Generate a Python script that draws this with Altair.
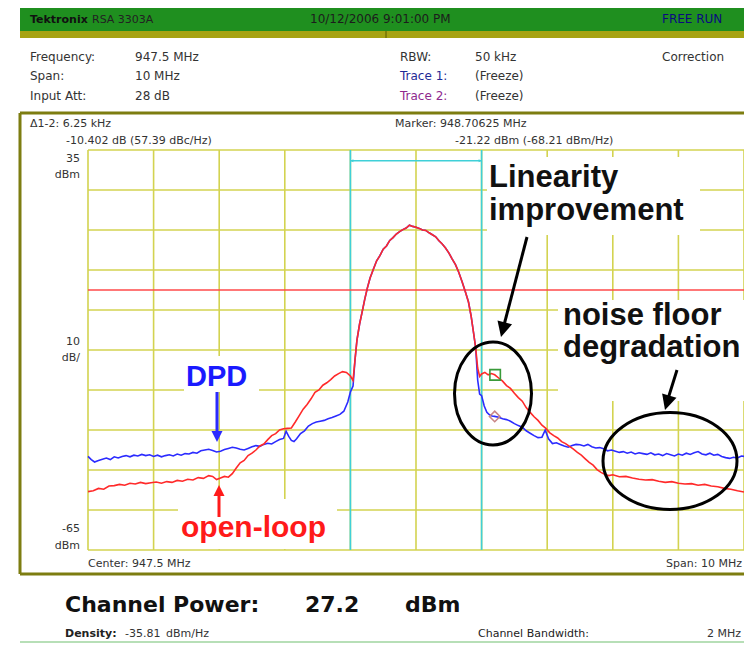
import altair as alt
import pandas as pd

# ---------------- data ----------------
freq_grid = [942.5, 943.5, 944.5, 945.5, 946.5, 947.5, 948.5, 949.5, 950.5, 951.5, 952.5]
dbm_grid = [-65, -55, -45, -35, -25, -15, -5, 5, 15, 25, 35]
channel_edges = [946.5, 948.5]
ref_level = [0]

# main channel lobe (both traces coincide here)
lobe_f = [946.57, 946.60, 946.64, 946.68, 946.72, 946.76, 946.80, 946.85, 946.90, 946.95,
          947.00, 947.05, 947.10, 947.15, 947.20, 947.25, 947.30, 947.35, 947.40, 947.45,
          947.50, 947.55, 947.60, 947.65, 947.70, 947.75, 947.80, 947.85, 947.90, 947.95,
          948.00, 948.05, 948.10, 948.15, 948.20, 948.25, 948.30, 948.34, 948.38, 948.41]
lobe_d = [-17.5, -12.5, -8.5, -5.4, -2.2, 0.6, 3.0, 5.2, 7.3, 8.6,
          10.2, 11.0, 12.4, 13.1, 14.0, 14.6, 15.1, 15.5, 16.2, 15.9,
          15.7, 15.4, 15.0, 14.9, 14.3, 13.8, 13.3, 12.3, 11.5, 10.5,
          9.3, 7.8, 6.4, 4.5, 2.2, -0.3, -3.0, -6.5, -11.0, -14.5]

# open-loop trace (red)
ol_left_f = [942.50, 942.58, 942.66, 942.74, 942.82, 942.90, 942.98, 943.06, 943.14, 943.22,
             943.30, 943.38, 943.46, 943.54, 943.62, 943.70, 943.78, 943.86, 943.94, 944.02,
             944.10, 944.18, 944.26, 944.34, 944.40, 944.46, 944.52, 944.58, 944.64, 944.70,
             944.76, 944.82, 944.88, 944.94, 945.00, 945.06, 945.12, 945.18, 945.24, 945.30,
             945.36, 945.42, 945.48, 945.54, 945.60, 945.66, 945.72, 945.78, 945.84, 945.90,
             945.96, 946.02, 946.08, 946.14, 946.20, 946.26, 946.32, 946.38, 946.44, 946.50,
             946.54]
ol_left_d = [-50.4, -50.2, -49.6, -49.8, -49.0, -48.9, -48.6, -48.8, -48.3, -48.5,
             -48.1, -48.4, -48.2, -48.0, -48.3, -47.9, -48.1, -47.6, -47.8, -47.3,
             -47.5, -46.9, -47.1, -46.4, -46.6, -47.4, -47.0, -46.6, -46.8, -45.9,
             -44.5, -43.2, -42.6, -41.4, -40.8, -40.0, -39.0, -38.5, -37.4, -36.4,
             -35.9, -35.0, -34.7, -34.6, -34.5, -33.0, -31.4, -29.8, -28.6, -27.2,
             -25.6, -25.0, -23.8, -23.2, -22.4, -21.5, -20.9, -20.4, -20.6, -21.5,
             -22.6]
ol_right_f = [948.44, 948.47, 948.50, 948.55, 948.60, 948.65, 948.70, 948.76, 948.82, 948.88,
              948.94, 949.00, 949.06, 949.12, 949.18, 949.24, 949.30, 949.36, 949.42, 949.48,
              949.54, 949.60, 949.66, 949.72, 949.78, 949.84, 949.90, 949.96, 950.02, 950.08,
              950.14, 950.20, 950.26, 950.32, 950.38, 950.44, 950.50, 950.60, 950.70, 950.80,
              950.90, 951.00, 951.10, 951.20, 951.30, 951.40, 951.50, 951.60, 951.70, 951.80,
              951.90, 952.00, 952.10, 952.20, 952.30, 952.40, 952.50]
ol_right_d = [-19.5, -21.6, -21.0, -20.6, -21.2, -20.9, -21.2, -22.0, -22.8, -23.9,
              -24.6, -25.8, -26.9, -27.8, -29.4, -30.6, -31.7, -32.6, -33.8, -34.6,
              -35.7, -36.4, -37.0, -37.9, -38.4, -39.1, -39.8, -40.6, -41.3, -42.2,
              -43.1, -43.8, -44.9, -45.6, -46.1, -46.4, -46.2, -46.7, -46.6, -47.0,
              -47.3, -47.5, -47.4, -47.8, -48.1, -47.9, -48.3, -48.5, -48.4, -48.8,
              -48.6, -49.0, -49.2, -49.6, -49.8, -50.2, -50.5]

# DPD trace (blue)
dpd_left_f = [942.50, 942.55, 942.60, 942.66, 942.72, 942.78, 942.84, 942.90, 942.96, 943.02,
              943.08, 943.14, 943.20, 943.26, 943.32, 943.38, 943.44, 943.50, 943.56, 943.62,
              943.68, 943.74, 943.80, 943.86, 943.92, 943.98, 944.04, 944.10, 944.16, 944.22,
              944.28, 944.34, 944.40, 944.46, 944.52, 944.58, 944.64, 944.70, 944.76, 944.82,
              944.88, 944.94, 945.00, 945.06, 945.12, 945.18, 945.24, 945.30, 945.36, 945.42,
              945.48, 945.52, 945.56, 945.60, 945.64, 945.68, 945.74, 945.80, 945.86, 945.92,
              945.98, 946.04, 946.10, 946.16, 946.22, 946.28, 946.34, 946.40, 946.46, 946.50,
              946.54]
dpd_left_d = [-41.6, -42.4, -43.0, -42.6, -42.3, -42.0, -42.4, -41.7, -42.0, -41.6,
              -41.4, -41.7, -41.3, -41.5, -41.1, -41.4, -41.2, -41.6, -41.3, -41.7,
              -41.4, -41.2, -41.5, -41.0, -41.3, -40.9, -41.0, -40.6, -40.8, -40.2,
              -40.0, -39.8, -40.1, -40.5, -40.3, -39.9, -39.6, -39.3, -39.5, -39.8,
              -40.0, -39.6, -39.2, -38.9, -39.1, -38.6, -38.3, -38.5, -37.9, -37.4,
              -37.1, -35.3, -36.6, -37.6, -37.9, -37.2, -35.9, -35.2, -34.0, -33.4,
              -33.0, -32.8, -32.6, -32.2, -31.9, -31.5, -31.1, -30.3, -28.0, -25.5,
              -24.0]
dpd_right_f = [948.44, 948.47, 948.50, 948.54, 948.58, 948.62, 948.66, 948.70, 948.76, 948.82,
               948.88, 948.94, 949.00, 949.06, 949.12, 949.18, 949.24, 949.30, 949.36, 949.42,
               949.47, 949.52, 949.58, 949.64, 949.70, 949.76, 949.82, 949.88, 949.94, 950.00,
               950.06, 950.12, 950.18, 950.24, 950.30, 950.36, 950.42, 950.48, 950.54, 950.60,
               950.66, 950.72, 950.78, 950.84, 950.90, 950.96, 951.02, 951.08, 951.14, 951.20,
               951.26, 951.32, 951.38, 951.44, 951.50, 951.56, 951.62, 951.68, 951.74, 951.80,
               951.86, 951.92, 951.98, 952.04, 952.10, 952.16, 952.22, 952.28, 952.34, 952.40,
               952.46, 952.50]
dpd_right_d = [-22.5, -26.0, -26.4, -29.0, -30.6, -31.2, -31.5, -31.6, -31.8, -32.2,
               -32.4, -32.8, -33.4, -33.9, -34.3, -35.2, -35.8, -36.4, -36.9, -36.8,
               -35.0, -37.2, -38.4, -38.2, -38.6, -39.0, -39.3, -38.9, -38.6, -38.7,
               -39.0, -38.6, -39.2, -39.5, -39.4, -39.7, -40.2, -40.0, -40.3, -40.6,
               -40.4, -40.8, -40.5, -41.0, -40.7, -40.9, -41.1, -40.7, -41.2, -41.0,
               -41.4, -40.9, -41.2, -41.5, -41.0, -41.3, -40.8, -41.1, -40.7, -40.4,
               -41.0, -41.2, -40.8, -41.3, -41.1, -41.6, -41.9, -42.1, -41.8, -42.0,
               -41.5, -41.6]

marker_f = [948.70625, 948.70]
marker_d = [-21.22, -31.62]
cyan_arrow_level = [32.3]

# ---------------- layout helpers ----------------
W, H = 656, 400
OX, OY = 88, 150          # page position of plot origin
GRID = "#d3d350"
CYAN = "#3fd0d8"
RED = "#ff2a2a"
BLUE = "#2b2bff"
SMALL = "DejaVu Sans"
BIG = "Liberation Sans"

one = pd.DataFrame({"k": [0]})
XS = alt.Scale(domain=[942.5, 952.5], nice=False, zero=False)
YS = alt.Scale(domain=[-65, 35], nice=False, zero=False)


def X(field="f"):
    return alt.X(f"{field}:Q", scale=XS, axis=None)


def Y(field="d"):
    return alt.Y(f"{field}:Q", scale=YS, axis=None)


def T(s, x, y, size=12, color="#333333", weight="normal", align="left", font=SMALL):
    return alt.Chart(one).mark_text(
        text=s, align=align, baseline="alphabetic", fontSize=size, color=color,
        fontWeight=weight, font=font
    ).encode(x=alt.value(x - OX), y=alt.value(y - OY))


def box(x1, y1, x2, y2, color="white"):
    return alt.Chart(one).mark_rect(color=color, opacity=1).encode(
        x=alt.value(x1 - OX), x2=alt.value(x2 - OX), y=alt.value(y1 - OY), y2=alt.value(y2 - OY))


def seg(x1, y1, x2, y2, color="black", width=3):
    return alt.Chart(one).mark_rule(color=color, strokeWidth=width).encode(
        x=alt.value(x1 - OX), x2=alt.value(x2 - OX), y=alt.value(y1 - OY), y2=alt.value(y2 - OY))


HEAD = "M 0 0 L -0.5 -1 L 0.5 -1 Z"   # arrow head, tip at origin, pointing down


def head(x, y, angle, length, color="black"):
    return alt.Chart(one).mark_point(
        shape=HEAD, size=(2 * length) ** 2, angle=angle, filled=True, color=color, opacity=1
    ).encode(x=alt.value(x - OX), y=alt.value(y - OY))


def ellipse(cx, cy, rx, ry):
    s = max(rx, ry)
    a, b, k = rx / s, ry / s, 0.5523
    p = (f"M {a:.4f} 0 C {a:.4f} {k*b:.4f} {k*a:.4f} {b:.4f} 0 {b:.4f} "
         f"C {-k*a:.4f} {b:.4f} {-a:.4f} {k*b:.4f} {-a:.4f} 0 "
         f"C {-a:.4f} {-k*b:.4f} {-k*a:.4f} {-b:.4f} 0 {-b:.4f} "
         f"C {k*a:.4f} {-b:.4f} {a:.4f} {-k*b:.4f} {a:.4f} 0 Z")
    return alt.Chart(one).mark_point(
        shape=p, size=(2 * s) ** 2, filled=False, color="black", strokeWidth=3, opacity=1
    ).encode(x=alt.value(cx - OX), y=alt.value(cy - OY))


layers = []

# header and frame
layers += [
    box(20, 8, 752, 31, "#1f8f1f"),
    box(20, 31, 752, 38, "#a7a313"),
    seg(386, 31, 386, 38, "#5a5a00", 1),
    seg(20, 113, 752, 113, "#7d7d10", 3),
    seg(20, 113, 20, 574, "#7d7d10", 3),
    seg(20, 574, 752, 574, "#7d7d10", 3),
    seg(20, 642, 752, 642, "#b7dfb7", 2),
]

# grid
layers.append(alt.Chart(pd.DataFrame({"f": freq_grid})).mark_rule(color=GRID, strokeWidth=1.6)
              .encode(x=X(), y=alt.value(0), y2=alt.value(H)))
layers.append(alt.Chart(pd.DataFrame({"d": dbm_grid})).mark_rule(color=GRID, strokeWidth=1.6)
              .encode(y=Y(), x=alt.value(0), x2=alt.value(W)))

# white backgrounds behind the annotations
layers += [
    box(487, 157, 700, 235),
    box(558, 300, 752, 401),
    box(184, 356, 259, 392),
    box(178, 499, 337, 549),
]

# channel edges and bandwidth arrow
layers.append(alt.Chart(pd.DataFrame({"f": channel_edges})).mark_rule(color=CYAN, strokeWidth=1.6)
              .encode(x=X(), y=alt.value(0), y2=alt.value(H)))
cyan_df = pd.DataFrame({"f": [channel_edges[0]], "f2": [channel_edges[1]], "d": cyan_arrow_level})
layers.append(alt.Chart(cyan_df).mark_rule(color=CYAN, strokeWidth=1.6)
              .encode(x=X(), x2="f2:Q", y=Y()))
layers.append(alt.Chart(pd.DataFrame({"f": [channel_edges[0]], "d": cyan_arrow_level}))
              .mark_point(shape=HEAD, size=36, angle=90, filled=True, color=CYAN, opacity=1)
              .encode(x=X(), y=Y()))
layers.append(alt.Chart(pd.DataFrame({"f": [channel_edges[1]], "d": cyan_arrow_level}))
              .mark_point(shape=HEAD, size=36, angle=270, filled=True, color=CYAN, opacity=1)
              .encode(x=X(), y=Y()))

# reference level line
layers.append(alt.Chart(pd.DataFrame({"d": ref_level})).mark_rule(color="#ff4a4a", strokeWidth=1.6)
              .encode(y=Y(), x=alt.value(0), x2=alt.value(W)))

# traces
dpd = pd.DataFrame({"f": dpd_left_f + lobe_f + dpd_right_f, "d": dpd_left_d + lobe_d + dpd_right_d})
ol = pd.DataFrame({"f": ol_left_f + lobe_f + ol_right_f, "d": ol_left_d + lobe_d + ol_right_d})
layers.append(alt.Chart(dpd).mark_line(color=BLUE, strokeWidth=1.6).encode(x=X(), y=Y(), order="f:Q"))
layers.append(alt.Chart(ol).mark_line(color=RED, strokeWidth=1.6).encode(x=X(), y=Y(), order="f:Q"))

# markers
layers.append(alt.Chart(pd.DataFrame({"f": marker_f[:1], "d": marker_d[:1]}))
              .mark_point(shape="square", size=110, filled=False, color="#3a9a3a", strokeWidth=1.6, opacity=1)
              .encode(x=X(), y=Y()))
layers.append(alt.Chart(pd.DataFrame({"f": marker_f[1:], "d": marker_d[1:]}))
              .mark_point(shape="diamond", size=110, filled=False, color="#c98686", strokeWidth=1.6, opacity=1)
              .encode(x=X(), y=Y()))

# ellipses and arrows
layers += [
    ellipse(493, 393.5, 38.5, 51.5),
    ellipse(670, 461, 67, 48.5),
    seg(527, 237, 503, 329),
    head(501, 337, 14.6, 15),
    seg(677, 370, 667, 402),
    head(665, 410, 16.7, 15),
    seg(217, 392, 217, 434, BLUE, 3),
    head(217, 442, 0, 11, BLUE),
    seg(219, 517, 219, 493, "#ff1a1a", 3),
    head(219, 485, 180, 11, "#ff1a1a"),
]

# annotation texts
layers += [
    T("Linearity", 489, 187, 31, "#111111", "bold", font=BIG),
    T("improvement", 489, 220, 31, "#111111", "bold", font=BIG),
    T("noise floor", 563, 325, 31, "#111111", "bold", font=BIG),
    T("degradation", 563, 357, 31, "#111111", "bold", font=BIG),
    T("DPD", 186, 386, 29, "#1a1aff", "bold", font=BIG),
    T("open-loop", 181, 537, 30, "#ff1a1a", "bold", font=BIG),
]

# instrument texts
layers += [
    T("Tektronix", 30, 23, 11, "#111111", "bold"),
    T("RSA 3303A", 92, 23, 11, "#222222"),
    T("10/12/2006 9:01:00 PM", 310, 23, 12, "#1c1c1c"),
    T("FREE RUN", 662, 23, 12, "#0a0a80"),

    T("Frequency:", 30, 61),
    T("947.5 MHz", 135, 61),
    T("Span:", 30, 80),
    T("10 MHz", 135, 80),
    T("Input Att:", 30, 100),
    T("28 dB", 135, 100),
    T("RBW:", 400, 61),
    T("50 kHz", 475, 61),
    T("Trace 1:", 400, 80, color="#1f2a96"),
    T("(Freeze)", 475, 80),
    T("Trace 2:", 400, 100, color="#8e2a8e"),
    T("(Freeze)", 475, 100),
    T("Correction", 662, 61),

    T("\u03941-2: 6.25 kHz", 30, 127, 11),
    T("-10.402 dB (57.39 dBc/Hz)", 66, 144, 11),
    T("Marker: 948.70625 MHz", 395, 127, 11),
    T("-21.22 dBm (-68.21 dBm/Hz)", 455, 144, 11),

    T("35", 80, 162, 11, align="right"),
    T("dBm", 80, 178, 11, align="right"),
    T("10", 80, 345, 11, align="right"),
    T("dB/", 80, 361, 11, align="right"),
    T("-65", 80, 532, 11, align="right"),
    T("dBm", 80, 549, 11, align="right"),

    T("Center: 947.5 MHz", 88, 567, 11),
    T("Span: 10 MHz", 742, 567, 11, align="right"),

    T("Channel Power:", 65, 612, 22, "#111111", "bold"),
    T("27.2", 305, 612, 22, "#111111", "bold"),
    T("dBm", 405, 612, 22, "#111111", "bold"),
    T("Density:", 65, 637, 11, "#222222", "bold"),
    T("-35.81", 125, 637, 11),
    T("dBm/Hz", 166, 637, 11),
    T("Channel Bandwidth:", 478, 637, 11, "#222222"),
    T("2 MHz", 741, 637, 11, align="right"),
]

chart = alt.layer(*layers).properties(
    width=W, height=H,
    padding={"left": 80, "top": 142, "right": 0, "bottom": 94},
    autosize=alt.AutoSizeParams(type="none"),
    background="white",
).configure_view(stroke=None)

chart.save("out.html", embed_options={"renderer": "svg", "actions": False})
